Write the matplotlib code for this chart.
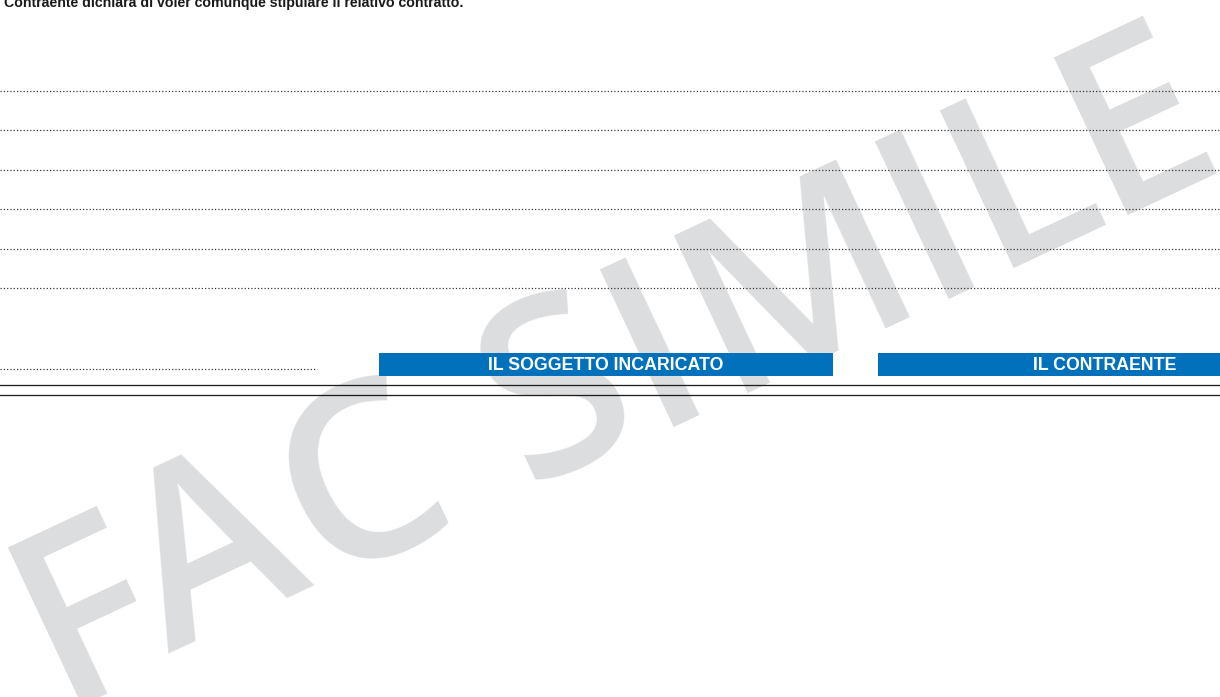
import math
import matplotlib
matplotlib.use("Agg")
import matplotlib.pyplot as plt
from matplotlib.patches import Rectangle
from matplotlib.textpath import TextPath
from matplotlib.font_manager import FontProperties

W, H = 1220, 697
DPI = 100

header_text = "Contraente dichiara di voler comunque stipulare il relativo contratto."
dotted_rows = [90.5, 129.5, 169.5, 208.5, 248.5, 287.5]
short_dotted_y = 368.5
short_dotted_end = 317
boxes = [
    {"label": "IL SOGGETTO INCARICATO", "x0": 379, "x1": 833},
    {"label": "IL CONTRAENTE", "x0": 878, "x1": 1332},
]
box_y0, box_y1 = 353, 376
double_lines = [384.5, 394.5]
watermark = "FAC SIMILE"

# layout of the watermark (pixels along its rotated baseline, ink left edges)
WM_ORIGIN = (80, 695)
WM_ANGLE = 25.1
WM_SIZE_PX = 244
WM_LETTER_LEFT = [0, 98, 282, None, 505, 654, 735, 957, 1029, 1155]

BLUE = "#0071BA"
GRAY = "#DCDDDF"
DOT = "#2e2e2e"
FONT = "Liberation Sans"
WM_FONT = ["Open Sans", "Liberation Sans"]
WM_WEIGHT = 600

fig = plt.figure(figsize=(W / DPI, H / DPI), dpi=DPI)
ax = fig.add_axes([0, 0, 1, 1])
ax.set_xlim(0, W)
ax.set_ylim(H, 0)
ax.axis("off")

px = 72 / DPI  # points per pixel

# watermark, letter by letter
wm_prop = FontProperties(family=WM_FONT, weight=WM_WEIGHT)
c, s = math.cos(math.radians(WM_ANGLE)), math.sin(math.radians(WM_ANGLE))
for ch, off in zip(watermark, WM_LETTER_LEFT):
    if off is None or ch == " ":
        continue
    lsb = TextPath((0, 0), ch, size=WM_SIZE_PX, prop=wm_prop).get_extents().x0
    d = off - lsb
    ax.text(WM_ORIGIN[0] + d * c, WM_ORIGIN[1] - d * s, ch,
            rotation=WM_ANGLE, rotation_mode="anchor",
            ha="left", va="baseline", fontsize=WM_SIZE_PX * px, fontweight=WM_WEIGHT,
            family=WM_FONT, color=GRAY, zorder=0)

# header text
ax.text(4, 6.5, header_text, ha="left", va="baseline", fontsize=14.1 * px,
        fontweight="bold", family=FONT, color="#1a1a1a", zorder=3)

LW = 1.2 * px
dot_style = (0, (1.0, 1.75))
for y in dotted_rows:
    ax.plot([0, W], [y, y], color=DOT, lw=LW, linestyle=dot_style,
            dash_capstyle="butt", zorder=2)
ax.plot([0, short_dotted_end], [short_dotted_y, short_dotted_y], color=DOT,
        lw=LW, linestyle=dot_style, dash_capstyle="butt", zorder=2)

for b in boxes:
    ax.add_patch(Rectangle((b["x0"], box_y0), b["x1"] - b["x0"], box_y1 - box_y0,
                           facecolor=BLUE, edgecolor="none", zorder=2))
    ax.text((b["x0"] + b["x1"]) / 2, (box_y0 + box_y1) / 2 + 0.5, b["label"],
            ha="center", va="center", fontsize=17.7 * px, fontweight="bold",
            family=FONT, color="white", zorder=3)

for y in double_lines:
    ax.plot([0, W], [y, y], color="#1e1e1e", lw=1.3 * px, zorder=2)

fig.savefig("out.png", dpi=DPI)
